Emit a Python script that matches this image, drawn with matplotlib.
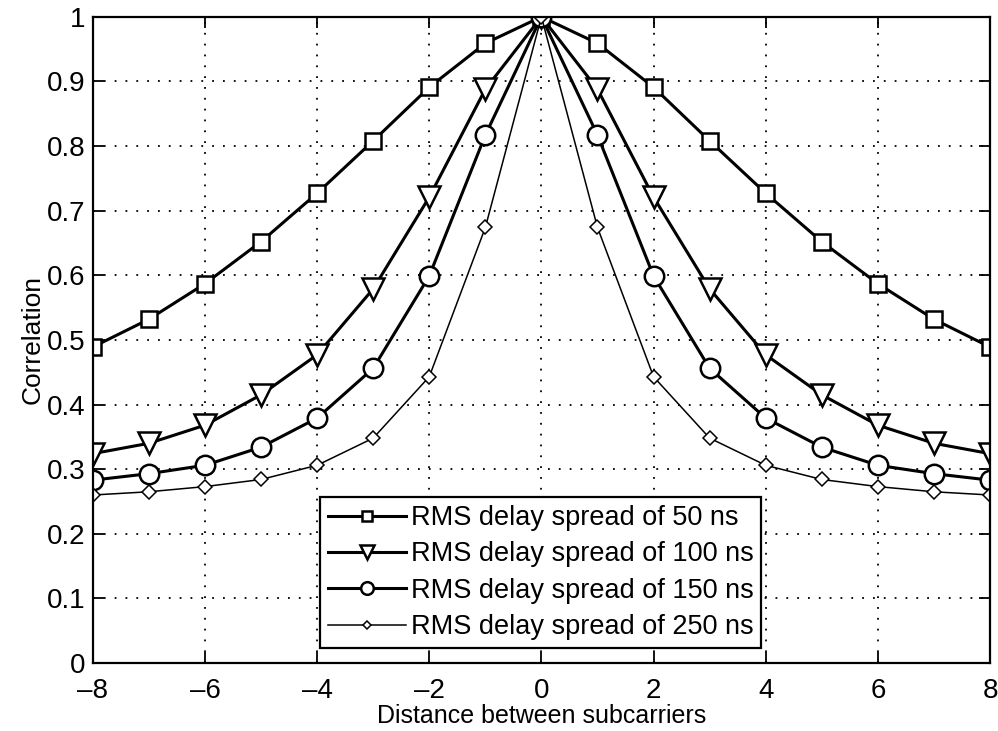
import numpy as np
import matplotlib.pyplot as plt

plt.rcParams['font.family'] = ['Liberation Sans', 'DejaVu Sans']

# subcarrier distance
dist = np.arange(-8, 9)
# one side (0..8), mirrored below
half_50 = [1.0, 0.959, 0.891, 0.808, 0.727, 0.652, 0.587, 0.532, 0.489]
half_100 = [1.0, 0.888, 0.721, 0.579, 0.477, 0.415, 0.368, 0.340, 0.324]
half_150 = [1.0, 0.817, 0.599, 0.456, 0.379, 0.334, 0.306, 0.293, 0.283]
half_250 = [1.0, 0.674, 0.443, 0.348, 0.306, 0.284, 0.273, 0.265, 0.260]
labels = ['RMS delay spread of 50 ns', 'RMS delay spread of 100 ns',
          'RMS delay spread of 150 ns', 'RMS delay spread of 250 ns']

def mirror(h):
    return np.array(h[:0:-1] + h)

fig = plt.figure(figsize=(9.98, 7.31), dpi=100)
ax = fig.add_axes([0.093, 0.093, 0.899, 0.884])

ax.plot(dist, mirror(half_50), 'k-', marker='s', ms=12, mfc='white', mew=1.8, lw=2.2, label=labels[0])
ax.plot(dist, mirror(half_100), 'k-', marker='v', ms=16, mfc='white', mew=1.8, lw=2.2, label=labels[1])
ax.plot(dist, mirror(half_150), 'k-', marker='o', ms=14, mfc='white', mew=1.8, lw=2.2, label=labels[2])
ax.plot(dist, mirror(half_250), 'k-', marker='D', ms=7, mfc='white', mew=1.1, lw=1.1, label=labels[3])

ax.set_xlim(-8, 8)
ax.set_ylim(0, 1)
ax.set_xticks(np.arange(-8, 9, 2))
ax.set_yticks(np.arange(0, 1.01, 0.1))
ax.set_xticklabels(['\u20138', '\u20136', '\u20134', '\u20132', '0', '2', '4', '6', '8'])
ax.set_yticklabels(['0', '0.1', '0.2', '0.3', '0.4', '0.5', '0.6', '0.7', '0.8', '0.9', '1'])
ax.tick_params(direction='in', top=True, right=True, labelsize=20, length=8, width=1.3)
ax.tick_params(axis='x', pad=11)
ax.tick_params(axis='y', pad=5)
ax.grid(True, color='black', linestyle=(0, (1, 5)), linewidth=1.3)
for s in ax.spines.values():
    s.set_linewidth(1.6)

ax.set_xlabel('Distance between subcarriers', fontsize=18, labelpad=0)
ax.set_ylabel('Correlation', fontsize=19, labelpad=2)

leg = ax.legend(loc='lower left', bbox_to_anchor=(0.253, 0.023), fontsize=19.5,
                fancybox=False, framealpha=1, edgecolor='black', markerscale=0.65,
                handlelength=2.9, borderpad=0.3, labelspacing=0.38, handletextpad=0.15,
                borderaxespad=0)
leg.get_frame().set_linewidth(1.6)

fig.savefig('out.png', dpi=100)
